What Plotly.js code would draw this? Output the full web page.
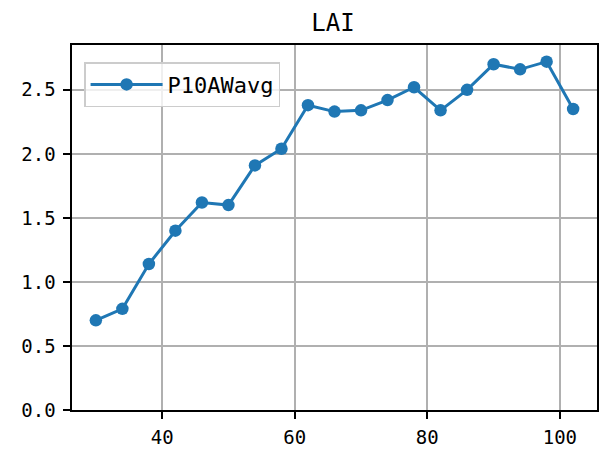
<!DOCTYPE html>
<html>
<head>
<meta charset="utf-8">
<script src="https://cdn.plot.ly/plotly-3.0.1.min.js"></script>
<style>html,body{margin:0;padding:0;background:#fff}#chart{width:599px;height:455px}</style>
</head>
<body>
<div id="chart"></div>
<script>
const xValues = [30, 34, 38, 42, 46, 50, 54, 58, 62, 66, 70, 74, 78, 82, 86, 90, 94, 98, 102];
const laiValues = [0.70, 0.79, 1.14, 1.40, 1.62, 1.60, 1.91, 2.04, 2.38, 2.33, 2.34, 2.42, 2.52, 2.34, 2.50, 2.70, 2.66, 2.72, 2.35];
const seriesName = 'P10AWavg';
const chartTitle = 'LAI';
const yTicks = [0, 0.5, 1.0, 1.5, 2.0, 2.5];
const yTickLabels = ['0.0', '0.5', '1.0', '1.5', '2.0', '2.5'];
const xTicks = [40, 60, 80, 100];

const font = 'DejaVu Sans Mono, monospace';
const trace = {
  x: xValues, y: laiValues, name: seriesName, type: 'scatter', mode: 'lines+markers',
  line: {color: '#1f77b4', width: 3}, marker: {color: '#1f77b4', size: 12.5}
};
const axisCommon = {
  showline: true, linecolor: '#000', linewidth: 1.6, mirror: true,
  ticks: 'outside', ticklen: 7, tickwidth: 1.6, tickcolor: '#000',
  showgrid: true, gridcolor: '#b0b0b0', gridwidth: 1.6, zeroline: false,
  tickfont: {family: font, size: 19, color: '#000'}
};
const layout = {
  width: 599, height: 455,
  margin: {l: 72, r: 2, t: 45, b: 45},
  paper_bgcolor: '#fff', plot_bgcolor: '#fff',
  title: {text: chartTitle, font: {family: font, size: 24, color: '#000'}, x: 0.556, xanchor: 'center', y: 0.95, yanchor: 'middle'},
  xaxis: Object.assign({}, axisCommon, {range: [26.4, 105.6], tickvals: xTicks, ticklabelstandoff: 3}),
  yaxis: Object.assign({}, axisCommon, {range: [0, 2.85], tickvals: yTicks, ticktext: yTickLabels, ticklabelstandoff: 4}),
  showlegend: true,
  legend: {x: 0.023, y: 0.953, xanchor: 'left', yanchor: 'top', bgcolor: 'rgba(255,255,255,0.8)', bordercolor: '#cccccc', borderwidth: 1.5,
    font: {family: font, size: 22, color: '#000'}, itemwidth: 72, tracegroupgap: 0}
};
Plotly.newPlot('chart', [trace], layout, {displayModeBar: false, staticPlot: true});
</script>
</body>
</html>
